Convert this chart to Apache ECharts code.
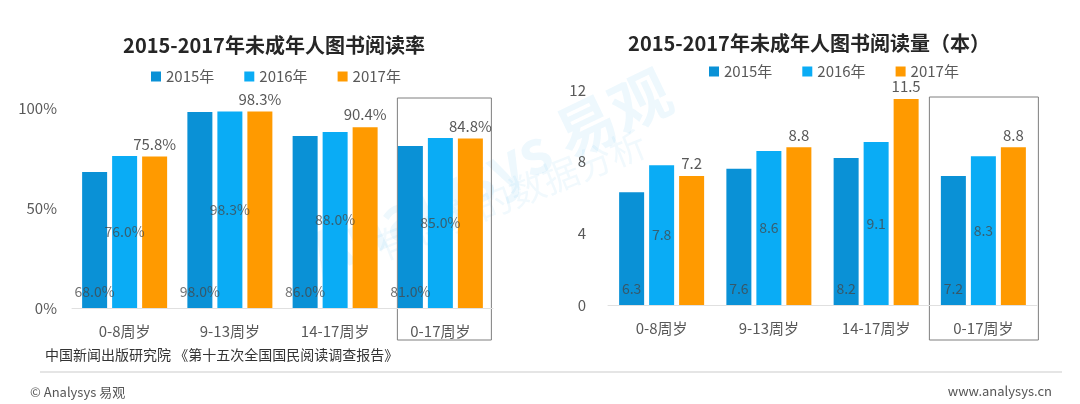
<!DOCTYPE html>
<html>
<head>
<meta charset="utf-8">
<script src="https://cdn.jsdelivr.net/npm/echarts@6/dist/echarts.min.js"></script>
<style>
  html,body{margin:0;padding:0;background:#fff;}
  #main{width:1080px;height:404px;}
</style>
</head>
<body>
<div id="main"></div>
<script>
// 数据
var categories = ['0-8周岁', '9-13周岁', '14-17周岁', '0-17周岁'];
var years = ['2015年', '2016年', '2017年'];
var rate2015 = [68.0, 98.0, 86.0, 81.0];
var rate2016 = [76.0, 98.3, 88.0, 85.0];
var rate2017 = [75.8, 98.3, 90.4, 84.8];
var books2015 = [6.3, 7.6, 8.2, 7.2];
var books2016 = [7.8, 8.6, 9.1, 8.3];
var books2017 = [7.2, 8.8, 11.5, 8.8];
var rateTicks = [0, 50, 100];
var bookTicks = [0, 4, 8, 12];

var colors = ['#0a91d6', '#0aacf5', '#ff9a00'];
var FONT = '"Noto Sans CJK SC", "Noto Sans", sans-serif';
var labelPos = ['insideBottom', 'inside', 'top'];

var myChart = echarts.init(document.getElementById('main'));

function makeSeries(data, idx, gridIdx, pct) {
  return {
    name: years[idx],
    type: 'bar',
    xAxisIndex: gridIdx,
    yAxisIndex: gridIdx,
    data: data,
    barWidth: 25,
    barGap: '20%',
    itemStyle: {color: colors[idx]},
    label: {
      show: true,
      position: labelPos[idx],
      distance: idx === 0 ? 9 : 5,
      fontFamily: FONT,
      fontSize: idx === 2 ? 15 : 14,
      color: idx === 2 ? '#595959' : 'rgba(70,70,70,0.75)',
      formatter: function (p) {
        return p.value.toFixed(1) + (pct ? '%' : '');
      }
    }
  };
}

function xAxisCfg(gridIdx) {
  return {
    type: 'category',
    gridIndex: gridIdx,
    data: categories,
    axisTick: {show: false},
    axisLine: {lineStyle: {color: '#e0e0e0'}},
    axisLabel: {color: '#595959', fontSize: 15, fontFamily: FONT, margin: 16}
  };
}

var option = {
  animation: false,
  color: colors,
  textStyle: {fontFamily: FONT},
  title: [
    {text: '2015-2017年未成年人图书阅读率', left: 269, top: 30, textAlign: 'center',
     textStyle: {fontSize: 20, fontWeight: 'bold', color: '#262626', fontFamily: FONT}},
    {text: '2015-2017年未成年人图书阅读量（本）', left: 804, top: 28, textAlign: 'center',
     textStyle: {fontSize: 20, fontWeight: 'bold', color: '#262626', fontFamily: FONT}}
  ],
  legend: [
    {data: years, left: 146, top: 64, itemWidth: 10, itemHeight: 10, itemGap: 30,
     icon: 'rect', textStyle: {fontSize: 15, color: '#595959', fontFamily: FONT}},
    {data: years, left: 704, top: 59, itemWidth: 10, itemHeight: 10, itemGap: 30,
     icon: 'rect', textStyle: {fontSize: 15, color: '#595959', fontFamily: FONT}}
  ],
  grid: [
    {left: 72, right: 587, top: 108, bottom: 96},
    {left: 608, right: 43, top: 90, bottom: 99}
  ],
  xAxis: [xAxisCfg(0), xAxisCfg(1)],
  yAxis: [
    {type: 'value', gridIndex: 0, min: rateTicks[0], max: rateTicks[rateTicks.length - 1],
     interval: rateTicks[1] - rateTicks[0], splitLine: {show: false},
     axisLabel: {formatter: '{value}%', color: '#595959', fontSize: 15, fontFamily: FONT, margin: 15}},
    {type: 'value', gridIndex: 1, min: bookTicks[0], max: bookTicks[bookTicks.length - 1],
     interval: bookTicks[1] - bookTicks[0], splitLine: {show: false},
     axisLabel: {color: '#595959', fontSize: 15, fontFamily: FONT, margin: 22}}
  ],
  series: [
    makeSeries(rate2015, 0, 0, true),
    makeSeries(rate2016, 1, 0, true),
    makeSeries(rate2017, 2, 0, true),
    makeSeries(books2015, 0, 1, false),
    makeSeries(books2016, 1, 1, false),
    makeSeries(books2017, 2, 1, false)
  ],
  graphic: [
    // 水印
    {type: 'text', left: 300, top: 60, rotation: 0.45, z: -1,
     style: {text: 'Analysys 易观', font: 'bold 60px ' + FONT, fill: 'rgba(10,150,220,0.07)'}},
    {type: 'text', left: 370, top: 125, rotation: 0.38, z: -1,
     style: {text: '有态度的数据分析', font: '36px ' + FONT, fill: 'rgba(10,150,220,0.06)'}},
    {type: 'text', left: 45, top: 348,
     style: {text: '中国新闻出版研究院 《第十五次全国国民阅读调查报告》', font: '14px ' + FONT, fill: '#333'}},
    {type: 'line', shape: {x1: 40, y1: 372, x2: 1062, y2: 372},
     style: {stroke: '#dcdcdc', lineWidth: 1.5}},
    {type: 'text', left: 30, top: 386,
     style: {text: '© Analysys 易观', font: '13px ' + FONT, fill: '#555'}},
    {type: 'text', right: 28, top: 385,
     style: {text: 'www.analysys.cn', font: '13px ' + FONT, fill: '#555'}}
  ]
};

myChart.setOption(option);

// 给 0-17周岁 这一组加框，位置从坐标轴换算
var c0 = myChart.convertToPixel({xAxisIndex: 0}, categories[3]);
var c1 = myChart.convertToPixel({xAxisIndex: 1}, categories[3]);
myChart.setOption({
  graphic: option.graphic.concat([
    {type: 'rect', shape: {x: c0 - 43, y: 98, width: 94, height: 242},
     style: {fill: 'none', stroke: '#7f7f7f', lineWidth: 1}},
    {type: 'rect', shape: {x: c1 - 54, y: 97, width: 109, height: 243},
     style: {fill: 'none', stroke: '#7f7f7f', lineWidth: 1}}
  ])
});
</script>
</body>
</html>
